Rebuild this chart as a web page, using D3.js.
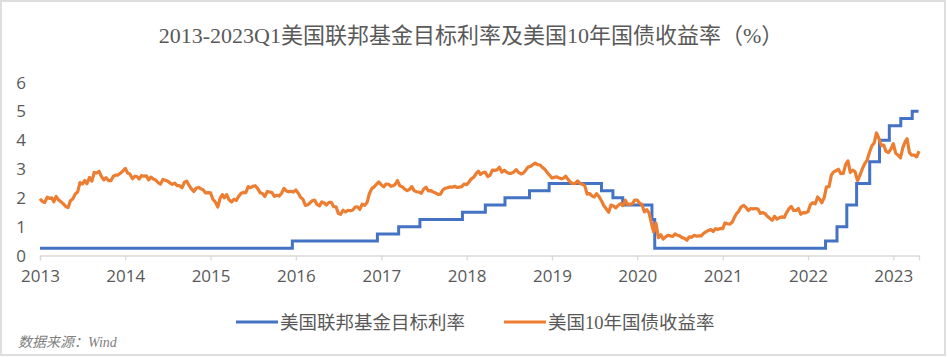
<!DOCTYPE html>
<html><head><meta charset="utf-8">
<script src="https://cdn.jsdelivr.net/npm/d3@7"></script>
<style>body{margin:0;background:#fff}svg{display:block}</style>
</head><body>
<svg id="c" width="947" height="357"></svg>
<script>
const title = "2013-2023Q1美国联邦基金目标利率及美国10年国债收益率（%）";
const source = "数据来源：Wind";
const seriesNames = ["美国联邦基金目标利率", "美国10年国债收益率"];
const yTicks = [0, 1, 2, 3, 4, 5, 6];
const xTickYears = [2013, 2014, 2015, 2016, 2017, 2018, 2019, 2020, 2021, 2022, 2023];

// Fed funds target rate (upper bound), step changes
const fedDates = ["2013-01-01","2015-12-17","2016-12-15","2017-03-16","2017-06-15","2017-12-14","2018-03-22","2018-06-14","2018-09-27","2018-12-20","2019-08-01","2019-09-19","2019-10-31","2020-03-04","2020-03-16","2022-03-17","2022-05-05","2022-06-16","2022-07-28","2022-09-22","2022-11-03","2022-12-15","2023-02-02","2023-03-23","2023-04-19"];
const fedRates = [0.25,0.5,0.75,1.0,1.25,1.5,1.75,2.0,2.25,2.5,2.25,2.0,1.75,1.25,0.25,0.5,1.0,1.75,2.5,3.25,4.0,4.5,4.75,5.0,5.0];

// US 10Y Treasury yield, sampled on the 1st, 11th and 21st of each month
const ty2013 = [1.97,1.87,1.84, 2.02,1.98,2.00, 1.86,2.05,1.93, 1.86,1.79,1.70, 1.66,1.90,1.96, 2.13,2.20,2.53, 2.48,2.60,2.49, 2.71,2.58,2.88, 2.86,2.92,2.74, 2.62,2.70,2.60, 2.60,2.75,2.79, 2.79,2.85,2.93];
const ty2014 = [3.02,2.86,2.82, 2.66,2.75,2.73, 2.65,2.77,2.75, 2.76,2.62,2.72, 2.65,2.62,2.53, 2.48,2.64,2.61, 2.58,2.52,2.47, 2.51,2.42,2.42, 2.35,2.54,2.58, 2.43,2.31,2.22, 2.34,2.36,2.31, 2.27,2.17,2.18];
const ty2015 = [2.17,1.95,1.86, 1.68,1.99,2.11, 2.00,2.11,1.93, 1.86,1.95,1.91, 2.05,2.15,2.19, 2.18,2.39,2.35, 2.40,2.42,2.33, 2.18,2.15,2.05, 2.22,2.20,2.18, 2.05,2.09,2.06, 2.16,2.33,2.24, 2.21,2.23,2.20];
const ty2016 = [2.27,2.17,2.02, 1.94,1.74,1.76, 1.82,1.90,1.92, 1.77,1.72,1.86, 1.82,1.75,1.84, 1.84,1.69,1.69, 1.46,1.43,1.57, 1.51,1.57,1.55, 1.58,1.68,1.69, 1.60,1.78,1.74, 1.84,2.15,2.32, 2.38,2.47,2.55];
const ty2017 = [2.45,2.38,2.48, 2.47,2.40,2.42, 2.46,2.60,2.42, 2.38,2.30,2.25, 2.29,2.39,2.25, 2.21,2.20,2.16, 2.30,2.37,2.24, 2.25,2.20,2.17, 2.12,2.13,2.27, 2.33,2.35,2.38, 2.37,2.40,2.36, 2.37,2.39,2.48];
const ty2018 = [2.46,2.55,2.66, 2.72,2.85,2.92, 2.81,2.87,2.89, 2.74,2.78,2.96, 2.95,2.97,3.06, 2.89,2.96,2.89, 2.85,2.85,2.89, 2.98,2.88,2.83, 2.86,2.96,3.07, 3.09,3.15,3.20, 3.15,3.14,3.06, 2.99,2.89,2.79];
const ty2019 = [2.69,2.71,2.73, 2.69,2.66,2.69, 2.75,2.64,2.54, 2.49,2.50,2.59, 2.50,2.47,2.43, 2.13,2.15,2.07, 2.03,2.14,2.05, 1.90,1.73,1.62, 1.50,1.75,1.72, 1.65,1.73,1.80, 1.73,1.92,1.77, 1.78,1.79,1.92];
const ty2020 = [1.92,1.82,1.77, 1.51,1.59,1.47, 1.15,0.82,1.12, 0.62,0.72,0.57, 0.64,0.70,0.68, 0.66,0.75,0.70, 0.68,0.62,0.60, 0.53,0.65,0.63, 0.70,0.67,0.68, 0.68,0.77,0.82, 0.87,0.90,0.83, 0.93,0.90,0.94];
const ty2021 = [0.93,1.13,1.10, 1.09,1.16,1.34, 1.45,1.54,1.69, 1.74,1.66,1.56, 1.63,1.62,1.63, 1.61,1.46,1.49, 1.45,1.36,1.29, 1.22,1.36,1.26, 1.31,1.34,1.32, 1.48,1.62,1.70, 1.56,1.56,1.63, 1.43,1.49,1.48];
const ty2022 = [1.52,1.76,1.83, 1.79,2.03,1.94, 1.83,2.00,2.38, 2.39,2.79,2.90, 2.94,2.99,2.84, 2.85,3.15,3.28, 2.88,2.96,2.91, 2.60,2.78,3.00, 3.19,3.31,3.57, 3.80,3.90,4.25, 4.05,3.81,3.83, 3.61,3.57,3.68];
const ty2023 = [3.88,3.55,3.48, 3.39,3.74,3.95, 4.05,3.57,3.48, 3.48,3.42,3.62];

const W = 947, H = 357;
const svg = d3.select("#c");
const parse = d3.timeParse("%Y-%m-%d");

svg.append("rect").attr("x",1).attr("y",1).attr("width",W-3).attr("height",H-3)
  .attr("fill","#fff").attr("stroke","#dedede").attr("stroke-width",2);

const x = d3.scaleTime().domain([new Date(2013,0,1), new Date(2023,3,21)]).range([40, 919]);
const y = d3.scaleLinear().domain([0, 6]).range([255.5, 82.5]);

// build 10Y data
const tyYears = [ty2013,ty2014,ty2015,ty2016,ty2017,ty2018,ty2019,ty2020,ty2021,ty2022,ty2023];
const days = [1, 11, 21];
const tyData = [];
tyYears.forEach((arr, yi) => {
  arr.forEach((v, i) => {
    tyData.push({date: new Date(2013 + yi, Math.floor(i/3), days[i % 3]), value: v});
  });
});
const fedData = fedDates.map((d,i) => ({date: parse(d), value: fedRates[i]}));

// title
svg.append("text").attr("x", 471).attr("y", 43).attr("text-anchor","middle")
  .attr("font-family","'Liberation Serif','Noto Sans CJK SC',serif").attr("font-size",22)
  .attr("fill","#595959").text(title);

// x axis
const xAxis = d3.axisBottom(x)
  .tickValues(xTickYears.map(yr => new Date(yr,0,1)))
  .tickFormat(d3.timeFormat("%Y")).tickSizeOuter(0).tickSize(5).tickPadding(9);
const gx = svg.append("g").attr("transform","translate(0,255.5)").call(xAxis);
gx.select(".domain").attr("stroke","#d9d9d9").attr("stroke-width",1.3);
gx.selectAll(".tick line").attr("stroke","#d9d9d9").attr("stroke-width",1.3);
gx.selectAll(".tick text").attr("font-family","'Open Sans',sans-serif").attr("font-size",17).attr("fill","#595959");

// y axis labels
const gy = svg.append("g");
gy.selectAll("text").data(yTicks).join("text")
  .attr("x", 21).attr("y", d => y(d)).attr("dy","0.36em").attr("text-anchor","middle")
  .attr("font-family","'Open Sans',sans-serif").attr("font-size",17).attr("fill","#595959")
  .text(d => d);

// lines
const fedLine = d3.line().x(d => x(d.date)).y(d => y(d.value)).curve(d3.curveStepAfter);
const tyLine = d3.line().x(d => x(d.date)).y(d => y(d.value));

svg.append("path").datum(fedData).attr("d", fedLine).attr("fill","none")
  .attr("stroke","#4472C4").attr("stroke-width",3);
svg.append("path").datum(tyData).attr("d", tyLine).attr("fill","none")
  .attr("stroke","#ED7D31").attr("stroke-width",3.2).attr("stroke-linejoin","round");

// legend
const legend = [
  {name: seriesNames[0], color:"#4472C4", x0:236},
  {name: seriesNames[1], color:"#ED7D31", x0:504}
];
const lg = svg.append("g");
legend.forEach(l => {
  lg.append("line").attr("x1", l.x0).attr("x2", l.x0 + 42).attr("y1", 322).attr("y2", 322)
    .attr("stroke", l.color).attr("stroke-width", 3);
  lg.append("text").attr("x", l.x0 + 44).attr("y", 329)
    .attr("font-family","'Liberation Serif','Noto Sans CJK SC',serif").attr("font-size",18.5)
    .attr("fill","#595959").text(l.name);
});

// source
svg.append("text").attr("x", 18).attr("y", 347)
  .attr("font-family","'Liberation Serif','Noto Sans CJK SC',serif").attr("font-size",14)
  .attr("font-style","italic").attr("fill","#7f7f7f").text(source);
</script>
</body></html>
